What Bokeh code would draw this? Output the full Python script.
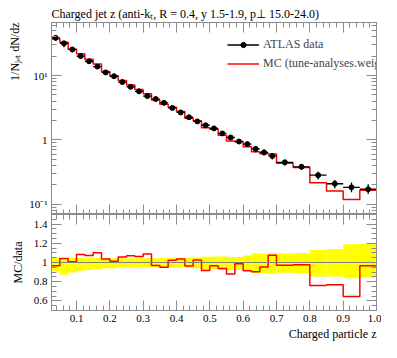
import numpy as np
from bokeh.plotting import figure
from bokeh.layouts import column
from bokeh.models import (ColumnDataSource, LinearAxis, LogAxis, Span, Legend, Title,
                          LegendItem, SingleIntervalTicker, FixedTicker, Range1d,
                          CustomJSTickFormatter, PrintfTickFormatter)
from bokeh.embed import file_html
from bokeh.resources import INLINE

# ---------------- data ----------------
bin_edges = [0.025, 0.05, 0.075, 0.1, 0.125, 0.15, 0.175, 0.2, 0.225, 0.25, 0.275,
             0.3, 0.325, 0.35, 0.375, 0.4, 0.425, 0.45, 0.475, 0.5, 0.525, 0.55,
             0.575, 0.6, 0.625, 0.65, 0.675, 0.7, 0.75, 0.8, 0.85, 0.9, 0.95, 1.0]
data_vals = [38.6, 31.7, 25.5, 20.1, 16.7, 13.8, 11.2, 9.77, 7.94, 6.69, 5.69, 4.80,
             4.32, 3.77, 3.14, 2.67, 2.25, 1.94, 1.69, 1.51, 1.26, 1.09, 0.944, 0.860,
             0.724, 0.640, 0.563, 0.448, 0.382, 0.283, 0.208, 0.183, 0.171]
mc_vals = [37.3, 33.0, 25.7, 21.8, 17.9, 15.2, 11.6, 9.90, 8.39, 7.16, 6.05, 5.22,
           4.19, 3.58, 3.21, 2.77, 2.17, 1.99, 1.55, 1.46, 1.18, 0.959, 0.932, 0.785,
           0.654, 0.610, 0.606, 0.435, 0.373, 0.215, 0.160, 0.118, 0.165]
band_up = [1.05, 1.05, 1.05, 1.05, 1.05, 1.05, 1.045, 1.045, 1.045, 1.045, 1.045,
           1.045, 1.045, 1.05, 1.05, 1.05, 1.05, 1.055, 1.06, 1.06, 1.063, 1.057,
           1.057, 1.073, 1.097, 1.095, 1.093, 1.093, 1.1, 1.13, 1.14, 1.19, 1.195]
band_lo = [0.905, 0.873, 0.897, 0.915, 0.923, 0.933, 0.94, 0.94, 0.947, 0.945, 0.947,
           0.948, 0.953, 0.947, 0.948, 0.953, 0.945, 0.94, 0.923, 0.93, 0.923, 0.92,
           0.923, 0.913, 0.89, 0.89, 0.88, 0.893, 0.89, 0.855, 0.855, 0.835, 0.845]

main_major_ticks = [0.1, 1, 10]
main_tick_labels = {0.1: "10\u207b\u00b9", 1: "1", 10: "10\u00b9"}
ratio_tick_labels = {1: "1"}

title_text = "Charged jet z (anti-k\u209c, R = 0.4, y 1.5-1.9, p\u22a5 15.0-24.0)"
ylabel_text = "1/N\u2c7c\u2091\u209c dN/dz"
xlabel_text = "Charged particle z"
ratio_label = "MC/data"
data_label = "ATLAS data"
mc_label = "MC (tune-analyses.weights)"

# ---------------- derived ----------------
edges = np.array(bin_edges)
left, right = edges[:-1], edges[1:]
mid = 0.5 * (left + right)
data = np.array(data_vals)
mc = np.array(mc_vals)
ratio = mc / data
src = ColumnDataSource(dict(left=left, right=right, mid=mid, y=data,
                            ylo=data * np.array(band_lo), yhi=data * np.array(band_up),
                            blo=band_lo, bhi=band_up))
mc_step = list(mc) + [mc[-1]]
ratio_step = list(ratio) + [ratio[-1]]

FONT = "Liberation Serif"
GRAY = "#8c8c8c"
W = 381
LB, RB = 47, 5


def style_axis(ax, labels=True):
    ax.major_tick_in = 10
    ax.major_tick_out = 0
    ax.minor_tick_in = 5
    ax.minor_tick_out = 0
    ax.major_tick_line_color = GRAY
    ax.minor_tick_line_color = GRAY
    ax.axis_line_color = GRAY
    ax.major_label_text_font = FONT
    ax.major_label_text_font_size = "11px"
    ax.major_label_text_color = "black"
    if labels:
        ax.major_label_standoff = 4
    else:
        ax.major_label_standoff = 0
        ax.formatter = CustomJSTickFormatter(code="return ''")


def side_title(text, align, standoff):
    return Title(text=text, align=align, text_font=FONT, text_font_size="12px",
                 text_font_style="normal", text_color="black", standoff=standoff, offset=0)


minor_log = [m * 10.0 ** k for k in (-2, -1, 0, 1) for m in range(2, 10)]

# ---------------- main panel ----------------
p1 = figure(width=W, height=214, x_range=Range1d(0.025, 1.0),
            y_range=Range1d(0.0692, 66.9), y_axis_type="log",
            x_axis_location=None, y_axis_location="left",
            output_backend="svg", toolbar_location=None,
            min_border_left=LB, min_border_right=RB, min_border_top=22, min_border_bottom=0)
p1.outline_line_color = GRAY
p1.grid.visible = False
p1.title = side_title(title_text, "left", 3)

logticker = FixedTicker(ticks=main_major_ticks, minor_ticks=minor_log)
xticker = SingleIntervalTicker(interval=0.1, num_minor_ticks=5)

ya = p1.yaxis[0]
ya.ticker = logticker
ya.major_label_overrides = main_tick_labels
style_axis(ya)
p1.add_layout(side_title(ylabel_text, "right", 10), "left")
yr = LogAxis(ticker=logticker)
style_axis(yr, labels=False)
p1.add_layout(yr, "right")
xb = LinearAxis(ticker=xticker)
style_axis(xb, labels=False)
p1.add_layout(xb, "below")
xt = LinearAxis(ticker=xticker)
style_axis(xt, labels=False)
p1.add_layout(xt, "above")

mc_r = p1.step(x=bin_edges, y=mc_step, mode="after", line_color="#ff0000", line_width=1.5)
hseg = p1.segment(x0="left", x1="right", y0="y", y1="y", source=src,
                  line_color="black", line_width=1.3)
p1.segment(x0="mid", x1="mid", y0="ylo", y1="yhi", source=src,
           line_color="black", line_width=1.3)
sc = p1.scatter("mid", "y", source=src, size=5, color="black")

legend = Legend(items=[LegendItem(label=data_label, renderers=[hseg, sc]),
                       LegendItem(label=mc_label, renderers=[mc_r])],
                location=(176, 141), glyph_width=32, glyph_height=13, label_height=19,
                spacing=0, padding=0, margin=0, label_standoff=4,
                label_text_font=FONT, label_text_font_size="12px",
                border_line_alpha=0, background_fill_alpha=0)
p1.add_layout(legend)

# ---------------- ratio panel ----------------
p2 = figure(width=W, height=128, x_range=p1.x_range, y_range=Range1d(0.5, 1.5),
            x_axis_location="below", y_axis_location="left",
            output_backend="svg", toolbar_location=None,
            min_border_left=LB, min_border_right=RB, min_border_top=0, min_border_bottom=32)
p2.outline_line_color = GRAY
p2.grid.visible = False

rticker = SingleIntervalTicker(interval=0.2, num_minor_ticks=4)
ra = p2.yaxis[0]
ra.ticker = rticker
ra.major_label_overrides = ratio_tick_labels
style_axis(ra)
p2.add_layout(side_title(ratio_label, "center", 12), "left")
rr = LinearAxis(ticker=rticker)
style_axis(rr, labels=False)
p2.add_layout(rr, "right")
xa = p2.xaxis[0]
xa.ticker = xticker
style_axis(xa)
xa.formatter = PrintfTickFormatter(format="%.1f")
xa.major_label_standoff = 4
p2.add_layout(side_title(xlabel_text, "right", 0), "below")
xt2 = LinearAxis(ticker=xticker)
style_axis(xt2, labels=False)
p2.add_layout(xt2, "above")

p2.quad(left="left", right="right", bottom="blo", top="bhi", source=src,
        fill_color="#ffff00", line_color=None)
p2.add_layout(Span(location=1.0, dimension="width", line_color="#808080", line_width=1))
p2.step(x=bin_edges, y=ratio_step, mode="after", line_color="#ff0000", line_width=1.5)

layout = column(p1, p2, spacing=0)
open("out.html", "w").write(file_html(layout, INLINE))
